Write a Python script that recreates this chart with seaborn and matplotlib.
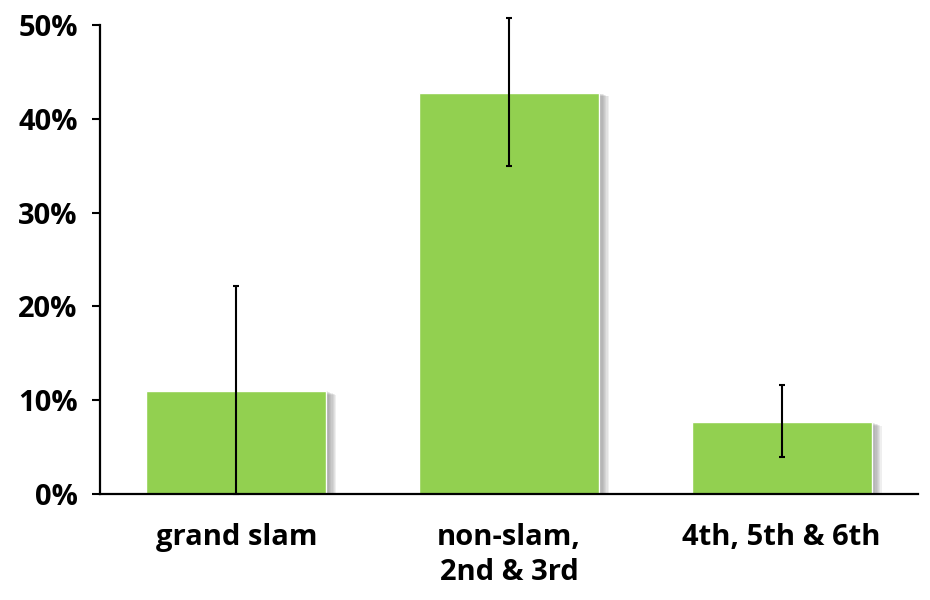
import matplotlib
matplotlib.use('Agg')
import matplotlib.pyplot as plt
import matplotlib.patheffects as pe
from matplotlib.ticker import PercentFormatter
import pandas as pd
import seaborn as sns

# dữ liệu
categories = ["grand slam", "non-slam,\n2nd & 3rd", "4th, 5th & 6th"]
values = [0.110, 0.428, 0.077]
err_low = [0.110, 0.078, 0.038]
err_high = [0.112, 0.079, 0.039]

df = pd.DataFrame({"category": categories, "value": values})

sns.set_style("white")
plt.rcParams['font.family'] = ['Open Sans', 'DejaVu Sans']

fig = plt.figure(figsize=(9.3, 6), dpi=100)
ax = fig.add_axes([0.1075, 0.1767, 0.8795, 0.7816])

sns.barplot(data=df, x="category", y="value", color="#92d050", saturation=1,
            width=0.66, errorbar=None, ax=ax, zorder=2)

# bóng đổ mờ dần cho các cột
shadow = []
for k in range(1, 9):
    shadow.append(pe.SimplePatchShadow(offset=(k * 0.9, -k * 0.35),
                                       shadow_rgbFace='#707070', alpha=0.11))
for bar in ax.patches:
    bar.set_path_effects(shadow + [pe.Normal()])

ax.errorbar(x=range(len(categories)), y=values, yerr=[err_low, err_high],
            fmt='none', ecolor='black', elinewidth=1.5, capsize=2.2,
            capthick=1.5, clip_on=False, zorder=3)

ax.set_xlim(-0.5, 2.5)
ax.set_ylim(0, 0.5)
ax.set_yticks([0, 0.1, 0.2, 0.3, 0.4, 0.5])
ax.yaxis.set_major_formatter(PercentFormatter(1.0, decimals=0))
ax.set_xlabel("")
ax.set_ylabel("")

sns.despine(ax=ax)
for s in ['left', 'bottom']:
    ax.spines[s].set_linewidth(1.6)
    ax.spines[s].set_color('black')
    ax.spines[s].set_zorder(4)

ax.tick_params(axis='y', left=True, direction='out', length=6, width=1.5,
               color='black', pad=10, labelsize=21, labelcolor='black')
ax.tick_params(axis='x', bottom=False, length=0, pad=21, labelsize=21,
               labelcolor='black')
for lab in ax.get_xticklabels() + ax.get_yticklabels():
    lab.set_fontweight('bold')
    lab.set_linespacing(1.25)

plt.savefig('out.png', dpi=100)
